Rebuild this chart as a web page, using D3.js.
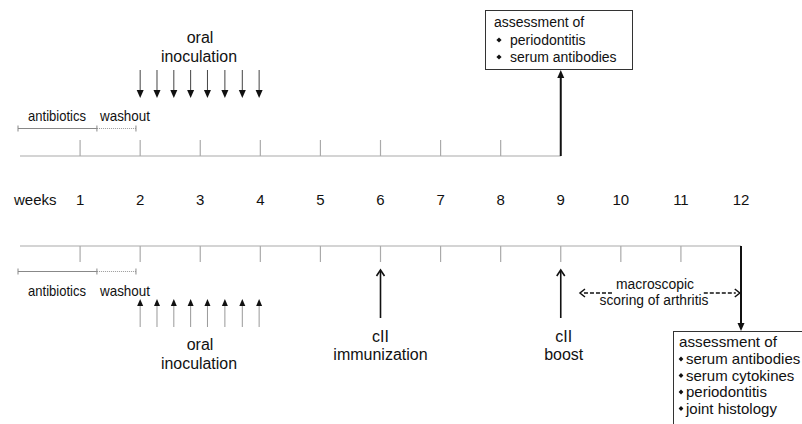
<!DOCTYPE html>
<html>
<head>
<meta charset="utf-8">
<script src="https://cdn.jsdelivr.net/npm/d3@7"></script>
<style>
  body { margin: 0; background: #fff; }
  text { font-family: "Liberation Sans", Arial, sans-serif; fill: #111; }
</style>
</head>
<body>
<div id="chart"></div>
<script>
// timeline data
const weeks = [1, 2, 3, 4, 5, 6, 7, 8, 9, 10, 11, 12];
const topEnd = 9;
const bottomEnd = 12;
const inoculations = [2, 2.28, 2.56, 2.84, 3.12, 3.41, 3.7, 3.98];
const antibiotics = [0, 1.28];
const washout = [1.28, 1.93];
const immunizations = [
  { week: 6, lines: ["cII", "immunization"] },
  { week: 9, lines: ["cII", "boost"] }
];
const arthritisScoring = [9.32, 11.98];
const topAssessment = ["periodontitis", "serum antibodies"];
const bottomAssessment = ["serum antibodies", "serum cytokines", "periodontitis", "joint histology"];

const W = 802, H = 424;
const svg = d3.select("#chart").append("svg")
    .attr("width", W)
    .attr("height", H);

const x = d3.scaleLinear().domain([0, 12]).range([20, 741]);

const topY = 156, botY = 246;
const grey = "#aaa";

function ticksFor(end) { return weeks.filter(w => w <= end); }

// condensed label (reference font is narrower than Arial)
function label(px, py, str, size, width, anchor) {
  const t = svg.append("text").attr("x", px).attr("y", py)
    .attr("text-anchor", anchor || "middle")
    .style("font-size", size + "px").text(str);
  if (width) t.attr("textLength", width).attr("lengthAdjust", "spacingAndGlyphs");
  return t;
}

// top timeline
svg.append("line")
    .attr("x1", x(0)).attr("x2", x(topEnd))
    .attr("y1", topY).attr("y2", topY)
    .attr("stroke", grey).attr("stroke-width", 1.2);
svg.selectAll(".ttick").data(ticksFor(topEnd - 1)).enter().append("line")
    .attr("x1", d => x(d)).attr("x2", d => x(d))
    .attr("y1", topY).attr("y2", topY - 16)
    .attr("stroke", grey).attr("stroke-width", 1.2);

// bottom timeline
svg.append("line")
    .attr("x1", x(0)).attr("x2", x(bottomEnd))
    .attr("y1", botY).attr("y2", botY)
    .attr("stroke", grey).attr("stroke-width", 1.2);
svg.selectAll(".btick").data(ticksFor(bottomEnd - 1)).enter().append("line")
    .attr("x1", d => x(d)).attr("x2", d => x(d))
    .attr("y1", botY).attr("y2", botY + 16)
    .attr("stroke", grey).attr("stroke-width", 1.2);

// week labels
svg.append("text").attr("x", 14).attr("y", 205)
    .style("font-size", "15px").text("weeks");
svg.selectAll(".wk").data(weeks).enter().append("text")
    .attr("x", d => x(d)).attr("y", 205)
    .attr("text-anchor", "middle")
    .style("font-size", "15px")
    .text(d => d);

// antibiotics / washout brackets
function bracket(y, labelY) {
  const g = svg.append("g");
  g.append("line")
    .attr("x1", x(antibiotics[0]) - 2).attr("x2", x(antibiotics[1]))
    .attr("y1", y).attr("y2", y)
    .attr("stroke", "#888").attr("stroke-width", 1);
  g.append("line")
    .attr("x1", x(washout[0])).attr("x2", x(washout[1]))
    .attr("y1", y).attr("y2", y)
    .attr("stroke", "#999").attr("stroke-width", 1)
    .attr("stroke-dasharray", "1,1");
  [x(antibiotics[0]) - 2, x(antibiotics[1]), x(washout[1])].forEach(px => {
    g.append("line").attr("x1", px).attr("x2", px)
      .attr("y1", y - 3).attr("y2", y + 3)
      .attr("stroke", "#888").attr("stroke-width", 1);
  });
  label(28, labelY, "antibiotics", 15, 58, "start");
  label(100, labelY, "washout", 15, 50, "start");
}
bracket(128.5, 121);
bracket(271.5, 296);

// arrow helper: shaft from (x,y1) to tip (x,y2)
function arrow(px, yFrom, yTip, opts) {
  const dir = yTip > yFrom ? 1 : -1;
  const hl = opts.headLen, hw = opts.headW;
  svg.append("line")
    .attr("x1", px).attr("x2", px)
    .attr("y1", yFrom).attr("y2", yTip - dir * (opts.open ? 1 : hl * 0.6))
    .attr("stroke", opts.shaft).attr("stroke-width", opts.width);
  if (opts.open) {
    svg.append("path")
      .attr("d", `M${px - hw},${yTip - dir * hl} L${px},${yTip} L${px + hw},${yTip - dir * hl}`)
      .attr("fill", "none").attr("stroke", "#111").attr("stroke-width", opts.width);
  } else {
    svg.append("path")
      .attr("d", `M${px - hw},${yTip - dir * hl} L${px},${yTip} L${px + hw},${yTip - dir * hl} Z`)
      .attr("fill", "#111");
  }
}

// top oral inoculation
inoculations.forEach(w => arrow(x(w), 70, 98, { headLen: 8, headW: 3.5, shaft: "#444", width: 1 }));
label(200, 43, "oral", 16);
label(199, 62, "inoculation", 16, 76);

// bottom oral inoculation
inoculations.forEach(w => arrow(x(w), 327, 299, { headLen: 7, headW: 3, shaft: "#999", width: 1 }));
label(200, 350, "oral", 16);
label(199, 369, "inoculation", 16, 76);

// cII immunizations
immunizations.forEach(d => {
  arrow(x(d.week), 318, 270, { headLen: 6, headW: 4, shaft: "#111", width: 1.6, open: true });
  d.lines.forEach((t, i) => {
    label(x(d.week) + (d.week === 9 ? 3 : 0), 342 + i * 18, t, 16);
  });
});

// diamond bullet
function bullet(cx, cy, r) {
  svg.append("path")
    .attr("d", `M${cx},${cy - r} L${cx + r},${cy} L${cx},${cy + r} L${cx - r},${cy} Z`)
    .attr("fill", "#111");
}

// top assessment arrow + box
arrow(x(topEnd), topY, 70, { headLen: 8, headW: 3.5, shaft: "#111", width: 2 });
svg.append("rect").attr("x", 485.5).attr("y", 10.5).attr("width", 147).attr("height", 59)
  .attr("fill", "#fff").attr("stroke", "#333").attr("stroke-width", 1);
label(494, 27, "assessment of", 14, null, "start");
topAssessment.forEach((t, i) => {
  bullet(499, 40 + i * 17, 2.6);
  label(510, 45 + i * 17, t, 14, null, "start");
});

// bottom assessment arrow + box
arrow(x(bottomEnd), botY, 331, { headLen: 8, headW: 3.5, shaft: "#111", width: 2 });
svg.append("rect").attr("x", 673.5).attr("y", 331.5).attr("width", 140).attr("height", 100)
  .attr("fill", "#fff").attr("stroke", "#333").attr("stroke-width", 1);
label(679, 347, "assessment of", 15, 98, "start");
bottomAssessment.forEach((t, i) => {
  bullet(681, 359 + i * 16.5, 2.4);
  label(686, 364 + i * 16.5, t, 15, null, "start");
});

// macroscopic scoring dashed arrows
const my = 293;
const sx0 = x(arthritisScoring[0]), sx1 = x(arthritisScoring[1]);
svg.append("line").attr("x1", sx0 + 4).attr("x2", sx0 + 33).attr("y1", my).attr("y2", my)
  .attr("stroke", "#111").attr("stroke-width", 1.5).attr("stroke-dasharray", "4,2");
svg.append("line").attr("x1", sx1 - 36).attr("x2", sx1 - 4).attr("y1", my).attr("y2", my)
  .attr("stroke", "#111").attr("stroke-width", 1.5).attr("stroke-dasharray", "4,2");
svg.append("path").attr("d", `M${sx0 + 5},${my - 4} L${sx0},${my} L${sx0 + 5},${my + 4}`)
  .attr("fill", "none").attr("stroke", "#111").attr("stroke-width", 1.5);
svg.append("path").attr("d", `M${sx1 - 5},${my - 4} L${sx1},${my} L${sx1 - 5},${my + 4}`)
  .attr("fill", "none").attr("stroke", "#111").attr("stroke-width", 1.5);
label(655, 289, "macroscopic", 14, 78);
label(654, 305, "scoring of arthritis", 14, 109);
</script>
</body>
</html>
